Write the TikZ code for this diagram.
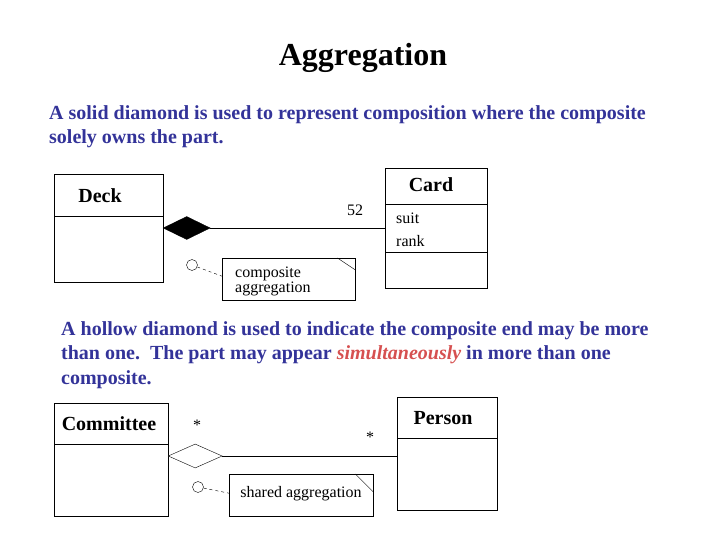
\documentclass[tikz,border=0pt]{standalone}
\usepackage{fontspec}
\setmainfont{Liberation Serif}
\usepackage{xcolor}
\usepackage{tikz}
\usetikzlibrary{shapes.geometric}
\definecolor{azul}{RGB}{51,51,153}
\definecolor{vermelho}{RGB}{214,80,80}

\begin{document}
\begin{tikzpicture}[
    x=1pt, y=-1pt,
    classe/.style={draw, anchor=north west, inner sep=0pt},
    nome/.style={font=\fontsize{20}{22}\selectfont\bfseries},
    atributo/.style={font=\fontsize{16}{18}\selectfont, anchor=base west, inner sep=0pt},
    texto/.style={text=azul, font=\fontsize{20}{24}\selectfont\bfseries, anchor=base west, inner sep=0pt},
    losango/.style={draw, diamond, aspect=2, inner sep=0pt, anchor=west},
    nota/.style={draw, anchor=north west, inner sep=0pt},
    elo/.style={draw, circle, inner sep=0pt, minimum size=11pt},
    ligacao/.style={dashed}
]
    \useasboundingbox (0,0) rectangle (720,540);

    % titulo e textos
    \node[font=\fontsize{32}{34}\selectfont\bfseries, anchor=base] (titulo) at (363,66) {Aggregation};
    \node[texto] (t1a) at (49,120) {A solid diamond is used to represent composition where the composite};
    \node[texto] (t1b) at (49,144) {solely owns the part.};
    \node[texto] (t2a) at (61,335) {A hollow diamond is used to indicate the composite end may be more};
    \node[texto] (t2b) at (61,359) {than one.\ \ The part may appear \textcolor{vermelho}{\itshape simultaneously} in more than one};
    \node[texto] (t2c) at (61,384) {composite.};

    % composicao
    \node[classe, minimum width=109pt, minimum height=108pt] (deck) at (54,174) {};
    \draw (deck.west |- 0,216) -- (deck.east |- 0,216);
    \node[nome] (deckNome) at (100,196) {Deck};
    \node[classe, minimum width=102pt, minimum height=120pt] (card) at (385,168) {};
    \draw (card.west |- 0,204) -- (card.east |- 0,204);
    \draw (card.west |- 0,252) -- (card.east |- 0,252);
    \node[nome] (cardNome) at (431,185) {Card};
    \node[atributo] (suit) at (396,223) {suit};
    \node[atributo] (rank) at (396,246) {rank};

    \node[losango, fill=black, minimum width=47pt, minimum height=23pt] (comp) at (163,228) {};
    \draw (comp.east) -- (comp.east -| card.west);
    \node[atributo] (n52) at (347,215) {52};

    \node[nota, minimum width=133pt, minimum height=42pt] (nota1) at (222,258) {};
    \draw ([xshift=-18pt]nota1.north east) -- ([yshift=-12pt]nota1.north east);
    \node[atributo] (nota1a) at (235,277) {composite};
    \node[atributo] (nota1b) at (235,292) {aggregation};
    \node[elo] (elo1) at (192,265) {};
    \draw[ligacao] (elo1) -- ([yshift=3pt]nota1.west);

    % agregacao
    \node[classe, minimum width=114pt, minimum height=113pt] (comite) at (54,403) {};
    \draw (comite.west |- 0,444) -- (comite.east |- 0,444);
    \node[nome] (comiteNome) at (109,424) {Committee};
    \node[classe, minimum width=100pt, minimum height=113pt] (pessoa) at (397,397) {};
    \draw (pessoa.west |- 0,438) -- (pessoa.east |- 0,438);
    \node[nome] (pessoaNome) at (443,418) {Person};

    \node[losango, fill=white, minimum width=54pt, minimum height=24pt] (agreg) at (168,456) {};
    \draw (agreg.east) -- (agreg.east -| pessoa.west);
    \node[atributo] (mult1) at (193,430) {*};
    \node[atributo] (mult2) at (366,442) {*};

    \node[nota, minimum width=144pt, minimum height=42pt] (nota2) at (229,474) {};
    \draw ([xshift=-18pt]nota2.north east) -- ([yshift=-18pt]nota2.north east);
    \node[font=\fontsize{16}{18}\selectfont] (nota2Texto) at (301,494) {shared aggregation};
    \node[elo] (elo2) at (198,487) {};
    \draw[ligacao] (elo2) -- ([yshift=2pt]nota2.west);
\end{tikzpicture}
\end{document}
